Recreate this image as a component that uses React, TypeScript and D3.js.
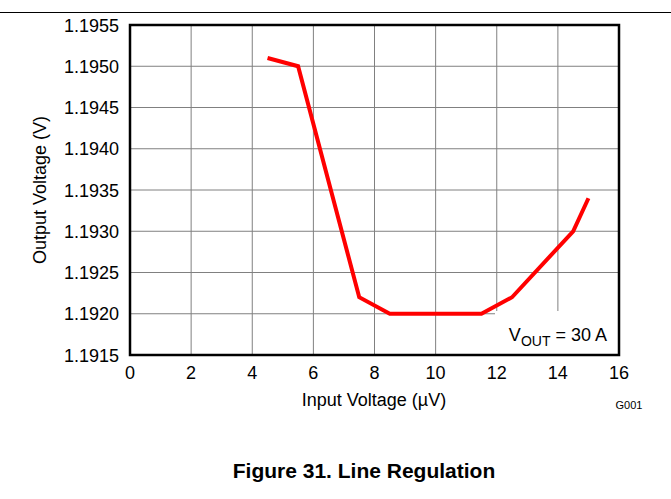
import React from "react";
import * as d3 from "d3";

const inputVoltage = [4.5, 5.5, 7.5, 8.5, 11.5, 12.5, 14.5, 15];
const outputVoltage = [1.1951, 1.195, 1.1922, 1.192, 1.192, 1.1922, 1.193, 1.1934];
const xTicks = [0, 2, 4, 6, 8, 10, 12, 14, 16];
const yTicks = [1.1915, 1.192, 1.1925, 1.193, 1.1935, 1.194, 1.1945, 1.195, 1.1955];

const W = 671, H = 499;
const L = 130, R = 619, T = 25, B = 355;
const font = "'Liberation Sans', Arial, sans-serif";

export default function App() {
  const x = d3.scaleLinear().domain([0, 16]).range([L, R]);
  const y = d3.scaleLinear().domain([1.1915, 1.1955]).range([B, T]);
  const line = d3.line<number>().x((_, i) => x(inputVoltage[i])).y((d) => y(d));
  const boxL = 495, boxT = 311;
  return (
    <svg width={W} height={H} style={{ position: "absolute", left: 0, top: 0 }} fontFamily={font}>
      <rect x={0} y={0} width={W} height={H} fill="white" />
      <line x1={0} x2={W} y1={12.5} y2={12.5} stroke="#000" strokeWidth={1} />
      {xTicks.map((t) => (
        <line key={"gx" + t} x1={x(t)} x2={x(t)} y1={T} y2={B} stroke="#808080" strokeWidth={1} />
      ))}
      {yTicks.map((t) => (
        <line key={"gy" + t} x1={L} x2={R} y1={y(t)} y2={y(t)} stroke="#808080" strokeWidth={1} />
      ))}
      <rect x={boxL} y={boxT} width={R - boxL} height={B - boxT} fill="white" />
      <path d={line(outputVoltage) || ""} fill="none" stroke="#ff0000" strokeWidth={4} strokeLinejoin="miter" />
      <rect x={L} y={T} width={R - L} height={B - T} fill="none" stroke="#000" strokeWidth={2.5} />
      <text x={607} y={341} fontSize={18} textAnchor="end" fill="#000">
        V<tspan fontSize={14} dy={5}>OUT</tspan><tspan dy={-5}> = 30 A</tspan>
      </text>
      {yTicks.map((t) => (
        <text key={"ty" + t} x={119} y={y(t) + 6.5} fontSize={18} textAnchor="end" fill="#000">
          {t.toFixed(4)}
        </text>
      ))}
      {xTicks.map((t) => (
        <text key={"tx" + t} x={x(t)} y={379} fontSize={18} textAnchor="middle" fill="#000">
          {t}
        </text>
      ))}
      <text x={374} y={406} fontSize={18} textAnchor="middle" fill="#000">Input Voltage (µV)</text>
      <text transform={`translate(46,190) rotate(-90)`} fontSize={18} textAnchor="middle" fill="#000">
        Output Voltage (V)
      </text>
      <text x={629} y={409} fontSize={11} textAnchor="middle" fill="#000">G001</text>
      <text x={364} y={478} fontSize={21} fontWeight="bold" textAnchor="middle" fill="#000">
        Figure 31. Line Regulation
      </text>
    </svg>
  );
}
